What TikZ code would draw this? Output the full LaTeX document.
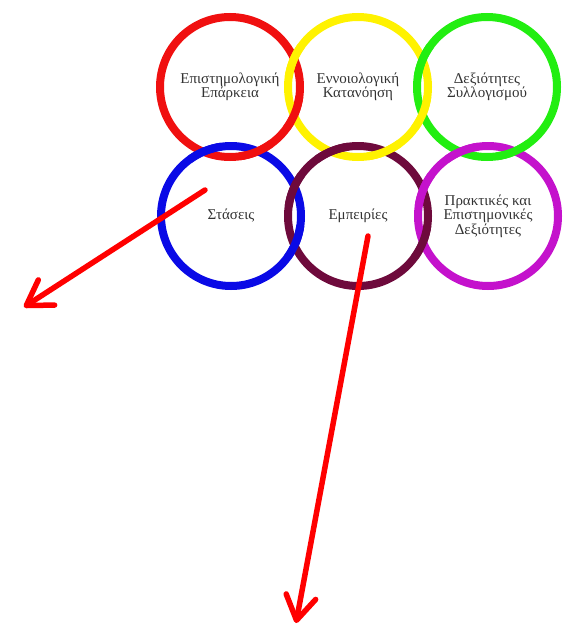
\documentclass[tikz,border=0pt]{standalone}
\usepackage{fontspec}
\setmainfont{Liberation Serif}
\usetikzlibrary{arrows.meta}
\definecolor{ringred}{HTML}{F01010}
\definecolor{ringyellow}{HTML}{FFF200}
\definecolor{ringgreen}{HTML}{22EE11}
\definecolor{ringblue}{HTML}{0A0AE6}
\definecolor{ringpurple}{HTML}{6E0A3C}
\definecolor{ringmagenta}{HTML}{C412CC}
\definecolor{labelgray}{HTML}{333333}
\newcommand{\ringlabel}[2]{#1 \\ #2}

\begin{document}
\begin{tikzpicture}[x = 1pt, y = -1pt, every node/.style = {circle, draw, line width = 8pt, minimum size = 140pt, inner sep = 0pt, align = center, text = labelgray, font = \fontsize{15}{14.5}\selectfont}]

	\useasboundingbox (0, 0) rectangle (566, 629);

	\node (EP) at (230,  87) [draw = ringred]     {\ringlabel{Επιστημολογική}{Επάρκεια}};
	\node (EK) at (358,  87) [draw = ringyellow]  {\ringlabel{Εννοιολογική}{Κατανόηση}};
	\node (DS) at (487,  87) [draw = ringgreen]   {\ringlabel{Δεξιότητες}{Συλλογισμού}};
	\node (ST) at (231, 216) [draw = ringblue]    {\raisebox{-4pt}{Στάσεις}};
	\node (EM) at (358, 216) [draw = ringpurple]  {\raisebox{-6pt}{Εμπειρίες}};
	\node (PE) at (488, 216) [draw = ringmagenta] {Πρακτικές και \\ Επιστημονικές \\ Δεξιότητες};

	\coordinate (STfrom) at (205, 190);
	\coordinate (STto)   at ( 24, 307);
	\coordinate (EMfrom) at (368, 236);
	\coordinate (EMto)   at (296, 623);

    % over-crossings of the linked rings
    \foreach \ring/\col/\ang in {EK/ringyellow/202, EP/ringred/22, DS/ringgreen/202, EK/ringyellow/22,
    EM/ringpurple/202, ST/ringblue/22, PE/ringmagenta/202, EM/ringpurple/22,
    ST/ringblue/248, EP/ringred/68, EM/ringpurple/248, EK/ringyellow/68, PE/ringmagenta/248, DS/ringgreen/68}
    	\draw [\col, line width = 8pt] (\ring) ++(\ang-14:70) arc [start angle = \ang-14, end angle = \ang+14, radius = 70];

    \foreach \from/\to in {STfrom/STto, EMfrom/EMto}
    	\path (\from) edge [red, line width = 5.5pt, line cap = round, -{Straight Barb[round, length = 24pt, width = 30pt]}] (\to);

\end{tikzpicture}
\end{document}
